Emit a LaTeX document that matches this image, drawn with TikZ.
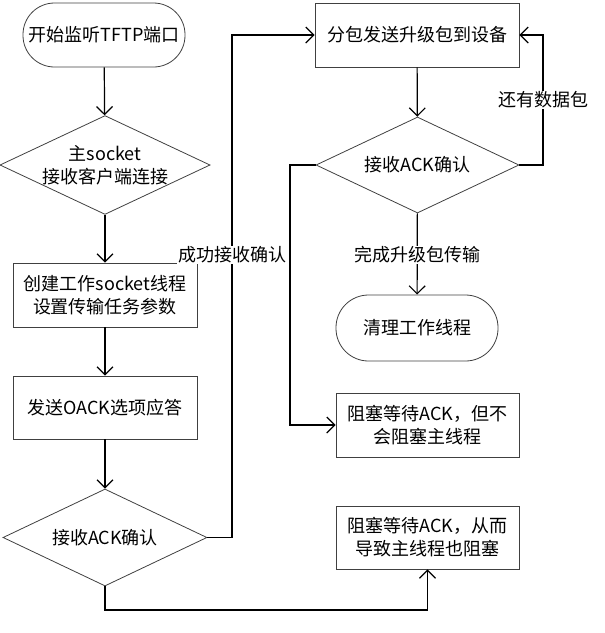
\documentclass[tikz,border=0pt]{standalone}
\usepackage{fontspec}
\setmainfont{Noto Sans CJK SC}
\usetikzlibrary{shapes.geometric,arrows.meta}
\begin{document}
\begin{tikzpicture}[x=1pt,y=-1pt,
  every node/.style={font=\fontsize{18}{23}\selectfont, text=black},
  shp/.style={draw=black!75, line width=0.8pt, inner sep=0pt, align=center},
  box/.style={shp, rectangle, minimum width=184pt, minimum height=64pt},
  term/.style={shp, rectangle, rounded corners=31.5pt, minimum width=162pt, minimum height=64pt},
  dia/.style={shp, diamond, aspect=2.125, minimum width=204pt, minimum height=96pt},
  arr/.style={draw=black, line width=1.2pt, -{Straight Barb[length=8pt,width=16pt,line width=1.2pt]}},
  ln/.style={draw=black, line width=1.2pt},
  lbl/.style={fill=white, inner sep=1pt}]
\useasboundingbox (0,0) rectangle (605,633);
% left column
\node[term] (start) at (104,35) {开始监听TFTP端口};
\node[dia] (d1) at (105,165) {主socket\\接收客户端连接};
\node[box] (b1) at (105,295) {创建工作socket线程\\设置传输任务参数};
\node[box, minimum height=63pt] (b2) at (105,407.5) {发送OACK选项应答};
\node[dia, minimum height=97pt] (d2) at (105,537.5) {接收ACK确认};
% right column
\node[box, minimum width=204pt] (p1) at (417,35) {分包发送升级包到设备};
\node[dia, minimum width=203pt] (d3) at (417.5,165) {接收ACK确认};
\node[term, minimum height=66pt, rounded corners=32.5pt] (end) at (417,328) {清理工作线程};
\node[box, minimum width=183pt] (b3) at (427.5,425) {阻塞等待ACK，但不\\会阻塞主线程};
\node[box, minimum width=183pt, minimum height=63pt] (b4) at (427.5,537.5) {阻塞等待ACK，从而\\导致主线程也阻塞};
\coordinate (c1) at (232,537.5);
\coordinate (c2) at (543,165);
\coordinate (c3) at (290,165);
\coordinate (c4) at (105,610);
% connectors
\draw[arr] (start) -- (d1);
\draw[arr] (d1) -- (b1);
\draw[arr] (b1) -- (b2);
\draw[arr] (b2) -- (d2);
\draw[arr] (d2.east) -- (c1) |- (p1.west);
\draw[arr] (p1) -- (d3);
\draw[arr] (d3.east) -- (c2) |- (p1.east);
\draw[arr] (d3) -- (end);
\draw[arr] (d3.west) -- (c3) |- (b3.west);
\draw[arr] (d2.south) -- (c4) -| (b4.south);
% labels
\node[lbl] (l1) at (232,255) {成功接收确认};
\node[lbl] (l2) at (543,100) {还有数据包};
\node[lbl] (l3) at (417,255) {完成升级包传输};
\end{tikzpicture}
\end{document}
